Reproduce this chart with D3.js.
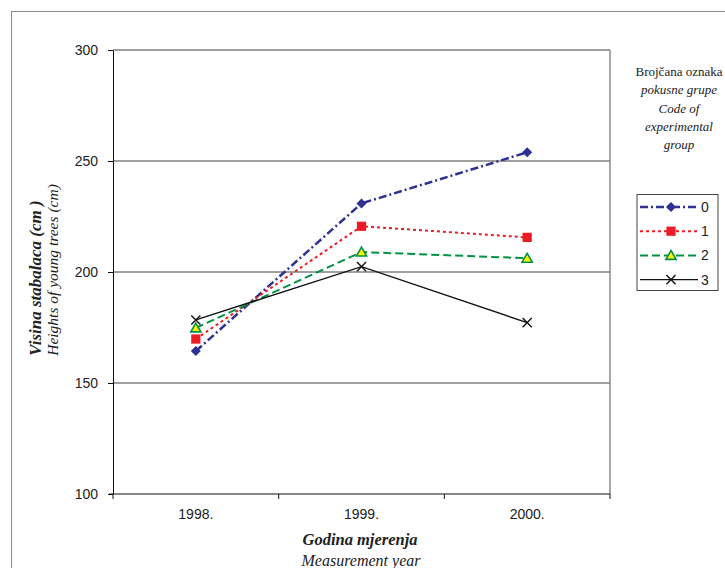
<!DOCTYPE html>
<html><head><meta charset="utf-8">
<script src="https://cdn.jsdelivr.net/npm/d3@7"></script>
<style>
html,body{margin:0;padding:0;background:#fff;}
svg{display:block;}
.serif{font-family:'Liberation Serif','Times New Roman',Tinos,'DejaVu Serif',serif;}
.sans{font-family:'Liberation Sans',Arial,sans-serif;}
</style>
</head><body>
<svg id="c" width="725" height="568"></svg>
<script>
const years = ["1998.", "1999.", "2000."];
const groups = ["0", "1", "2", "3"];
const values0 = [164.4, 230.9, 253.9];
const values1 = [169.8, 220.6, 215.6];
const values2 = [174.8, 209.0, 206.2];
const values3 = [178.4, 202.4, 177.2];
const yTicks = [100, 150, 200, 250, 300];
const legendTitle = [
  {t: "Brojčana oznaka", it: false},
  {t: "pokusne grupe", it: true},
  {t: "Code of", it: true},
  {t: "experimental", it: true},
  {t: "group", it: true}
];
const yTitle1 = "Visina stabalaca (cm )";
const yTitle2 = "Heights of young trees (cm)";
const xTitle1 = "Godina mjerenja";
const xTitle2 = "Measurement year";

const seriesValues = [values0, values1, values2, values3];
const styles = [
  {color: "#2e3192", dash: "8,3,2,3", width: 2.5, sym: "diamond"},
  {color: "#ed1c24", dash: "3,3", width: 2, sym: "square"},
  {color: "#009245", dash: "8,4", width: 2, sym: "triangle"},
  {color: "#111111", dash: null, width: 1.4, sym: "x"}
];

const svg = d3.select("#c");
const L = 113, R = 610, T = 50, B = 494;
const x = d3.scaleBand().domain(years).range([L, R]);
const y = d3.scaleLinear().domain([100, 300]).range([B, T]);
const cx = d => x(d) + x.bandwidth() / 2;

// outer frame
svg.append("rect").attr("x", 11.5).attr("y", 11.5).attr("width", 900).attr("height", 900)
  .attr("fill", "none").attr("stroke", "#8a8a8a").attr("stroke-width", 1);

// grid
svg.append("g").selectAll("line").data(yTicks.filter(v => v > 100)).join("line")
  .attr("x1", L).attr("x2", R).attr("y1", d => y(d)).attr("y2", d => y(d))
  .attr("stroke", "#7f7f7f").attr("stroke-width", 1.5);
// right border
svg.append("line").attr("x1", R).attr("x2", R).attr("y1", T).attr("y2", B)
  .attr("stroke", "#8a8a8a").attr("stroke-width", 1.5);

// y axis
const ya = d3.axisLeft(y).tickValues(yTicks).tickSize(5).tickPadding(10).tickSizeOuter(0);
const yg = svg.append("g").attr("transform", `translate(${L},0)`).call(ya);
yg.attr("font-family", null).attr("font-size", null);
yg.select(".domain").attr("stroke", "#111");
yg.selectAll(".tick line").attr("stroke", "#111");
yg.selectAll("text").attr("class", "sans").attr("font-size", 14).attr("fill", "#222");

// x axis
const xa = d3.axisBottom(x).tickSize(0).tickPadding(15);
const xg = svg.append("g").attr("transform", `translate(0,${B})`).call(xa);
xg.attr("font-family", null).attr("font-size", null);
xg.select(".domain").remove();
xg.selectAll("text").attr("class", "sans").attr("font-size", 14).attr("fill", "#222");
svg.append("line").attr("x1", L - 4).attr("x2", R).attr("y1", B).attr("y2", B).attr("stroke", "#111").attr("stroke-width", 1);
const bounds = years.map(d => x(d)).concat([x.range()[1]]);
svg.append("g").selectAll("line").data(bounds).join("line")
  .attr("x1", d => d).attr("x2", d => d).attr("y1", B).attr("y2", B + 5)
  .attr("stroke", "#111");

// series lines
const line = d3.line().x(d => cx(d.year)).y(d => y(d.v));
function symbolPath(sym) {
  if (sym === "diamond") return d3.symbol(d3.symbolSquare, 50)();
  if (sym === "square") return d3.symbol(d3.symbolSquare, 85)();
  if (sym === "triangle") return d3.symbol(d3.symbolTriangle, 45)();
  return d3.symbol(d3.symbolX, 56)();
}
function drawMarker(g, sym, color, px, py) {
  const p = g.append("path").attr("d", symbolPath(sym));
  if (sym === "diamond") {
    p.attr("transform", `translate(${px},${py}) rotate(45)`).attr("fill", color);
  } else if (sym === "square") {
    p.attr("transform", `translate(${px},${py})`).attr("fill", color);
  } else if (sym === "triangle") {
    p.attr("transform", `translate(${px},${py + 1})`).attr("fill", "#fff200").attr("stroke", color).attr("stroke-width", 1.6);
  } else {
    p.attr("transform", `translate(${px},${py})`).attr("fill", "none").attr("stroke", color).attr("stroke-width", 1.4);
  }
}
seriesValues.forEach((vals, i) => {
  const st = styles[i];
  const pts = years.map((yr, j) => ({year: yr, v: vals[j]}));
  const g = svg.append("g");
  g.append("path").attr("d", line(pts)).attr("fill", "none")
    .attr("stroke", st.color).attr("stroke-width", st.width)
    .attr("stroke-dasharray", st.dash);
  pts.forEach(p => drawMarker(g, st.sym, st.color, cx(p.year), y(p.v)));
});

// y title
svg.append("text").attr("class", "serif").attr("transform", "translate(41,278) rotate(-90)")
  .attr("text-anchor", "middle")
  .attr("font-style", "italic").attr("font-weight", "bold").attr("font-size", 17).attr("fill", "#222")
  .text(yTitle1);
svg.append("text").attr("class", "serif").attr("transform", "translate(58,270) rotate(-90)")
  .attr("text-anchor", "middle")
  .attr("font-style", "italic").attr("font-size", 15.5).attr("fill", "#222")
  .text(yTitle2);

// x title
svg.append("text").attr("class", "serif").attr("x", 360).attr("y", 545).attr("text-anchor", "middle")
  .attr("font-style", "italic")
  .attr("font-weight", "bold").attr("font-size", 16.5).attr("fill", "#222").text(xTitle1);
svg.append("text").attr("class", "serif").attr("x", 361).attr("y", 566).attr("text-anchor", "middle")
  .attr("font-style", "italic")
  .attr("font-size", 16).attr("fill", "#222").text(xTitle2);

// legend title
svg.append("g").selectAll("text").data(legendTitle).join("text")
  .attr("class", "serif")
  .attr("x", 679).attr("y", (d, i) => 76 + i * 18.3).attr("text-anchor", "middle")
  .attr("font-style", d => d.it ? "italic" : "normal")
  .attr("font-size", 13).attr("fill", "#222").text(d => d.t);

// legend box
const lg = svg.append("g");
lg.append("rect").attr("x", 637).attr("y", 194.5).attr("width", 81).attr("height", 96)
  .attr("fill", "#fff").attr("stroke", "#444").attr("stroke-width", 1);
groups.forEach((gname, i) => {
  const st = styles[i];
  const yy = 207 + i * 24.2;
  lg.append("line").attr("x1", 640).attr("x2", 698).attr("y1", yy).attr("y2", yy)
    .attr("stroke", st.color).attr("stroke-width", st.width).attr("stroke-dasharray", st.dash);
  drawMarker(lg, st.sym, st.color, 671, yy);
  lg.append("text").attr("class", "sans").attr("x", 701).attr("y", yy).attr("dy", "0.36em")
    .attr("font-size", 14).attr("fill", "#222")
    .text(gname);
});
</script>
</body></html>
